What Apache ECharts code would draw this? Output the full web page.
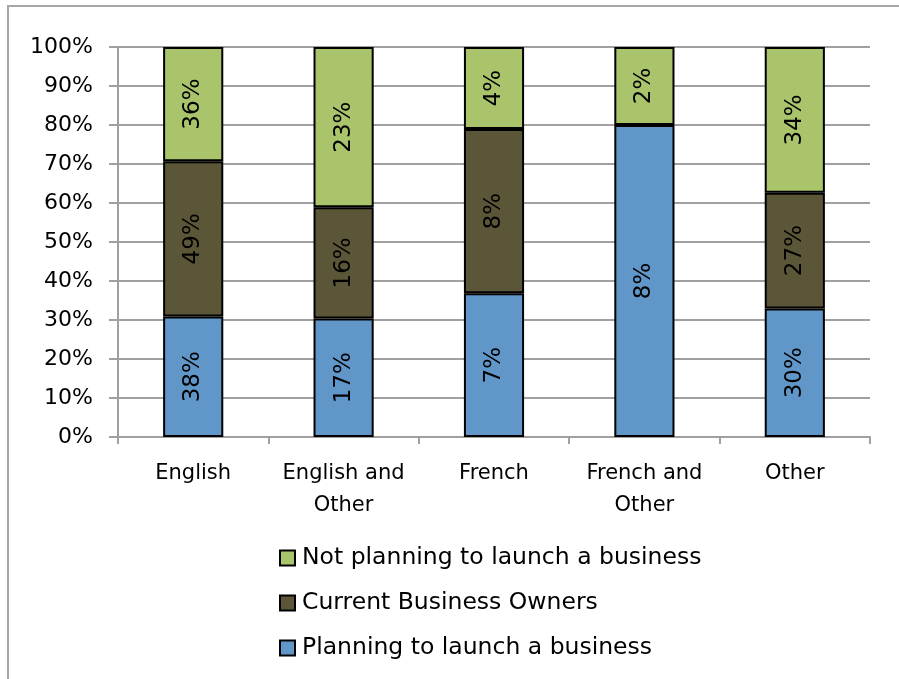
<!DOCTYPE html>
<html>
<head>
<meta charset="utf-8">
<script src="https://cdn.jsdelivr.net/npm/echarts@6/dist/echarts.min.js"></script>
<style>
  html, body { margin: 0; padding: 0; background: #fff; }
  #chart { width: 899px; height: 679px; }
</style>
</head>
<body>
<div id="chart"></div>
<script>
// Language groups along the x axis
const categories = ['English', 'English and\nOther', 'French', 'French and\nOther', 'Other'];

// Share (%) of each respondent group within each language group
const planning = [38, 17, 7, 8, 30];
const owners = [49, 16, 8, 0, 27];
const notPlanning = [36, 23, 4, 2, 34];

const yTicks = [0, 10, 20, 30, 40, 50, 60, 70, 80, 90, 100];

const FONT = 'DejaVu Sans';

// Each column is stacked to 100% of its own total
const totals = categories.map((_, i) => planning[i] + owners[i] + notPlanning[i]);
const toShare = arr => arr.map((v, i) => ({
  value: v / totals[i] * 100,
  raw: v,
  // an empty segment gets no outline so it doesn't thicken the border
  itemStyle: v ? undefined : { borderWidth: 0 }
}));

const barLabel = {
  show: true,
  position: 'inside',
  rotate: 90,
  color: '#000',
  fontFamily: FONT,
  fontSize: 23,
  formatter: p => (p.data.raw ? p.data.raw + '%' : '')
};

function series(name, arr, color) {
  return {
    name,
    type: 'bar',
    stack: 'total',
    barWidth: '40%',
    data: toShare(arr),
    itemStyle: { color, borderColor: '#000', borderWidth: 2 },
    label: barLabel,
    emphasis: { disabled: true }
  };
}

const chart = echarts.init(document.getElementById('chart'), null, { renderer: 'canvas' });
chart.setOption({
  animation: false,
  backgroundColor: '#fff',
  graphic: [{
    type: 'rect',
    shape: { x: 8, y: 6, width: 1200, height: 1200 },
    style: { fill: 'none', stroke: '#a6a6a6', lineWidth: 2 },
    silent: true
  }],
  grid: { left: 118, right: 29, top: 47, bottom: 242 },
  legend: {
    orient: 'vertical',
    left: 279,
    top: 546,
    padding: 0,
    itemWidth: 15,
    itemHeight: 15,
    itemGap: 21,
    icon: 'rect',
    textStyle: { fontFamily: FONT, fontSize: 23.5, color: '#000', padding: [0, 0, 0, 2] },
    data: ['Not planning to launch a business', 'Current Business Owners', 'Planning to launch a business'],
    itemStyle: { borderColor: '#000', borderWidth: 2 }
  },
  xAxis: {
    type: 'category',
    data: categories,
    axisLine: { lineStyle: { color: '#a0a0a0', width: 2 } },
    axisTick: { show: true, length: 7, interval: 0, lineStyle: { color: '#a0a0a0', width: 2 } },
    axisLabel: {
      interval: 0,
      margin: 21,
      color: '#000',
      fontFamily: FONT,
      fontSize: 21,
      lineHeight: 32
    }
  },
  yAxis: {
    type: 'value',
    min: 0,
    max: 100,
    interval: 10,
    axisLine: { show: true, lineStyle: { color: '#a0a0a0', width: 2 } },
    axisTick: { show: true, length: 9, lineStyle: { color: '#a0a0a0', width: 2 } },
    splitLine: { lineStyle: { color: '#a0a0a0', width: 2 } },
    axisLabel: {
      margin: 25,
      color: '#000',
      fontFamily: FONT,
      fontSize: 22,
      formatter: v => yTicks.includes(v) ? v + '%' : ''
    }
  },
  series: [
    series('Planning to launch a business', planning, '#6096c8'),
    series('Current Business Owners', owners, '#5c5638'),
    series('Not planning to launch a business', notPlanning, '#aac46c')
  ]
});
</script>
</body>
</html>
